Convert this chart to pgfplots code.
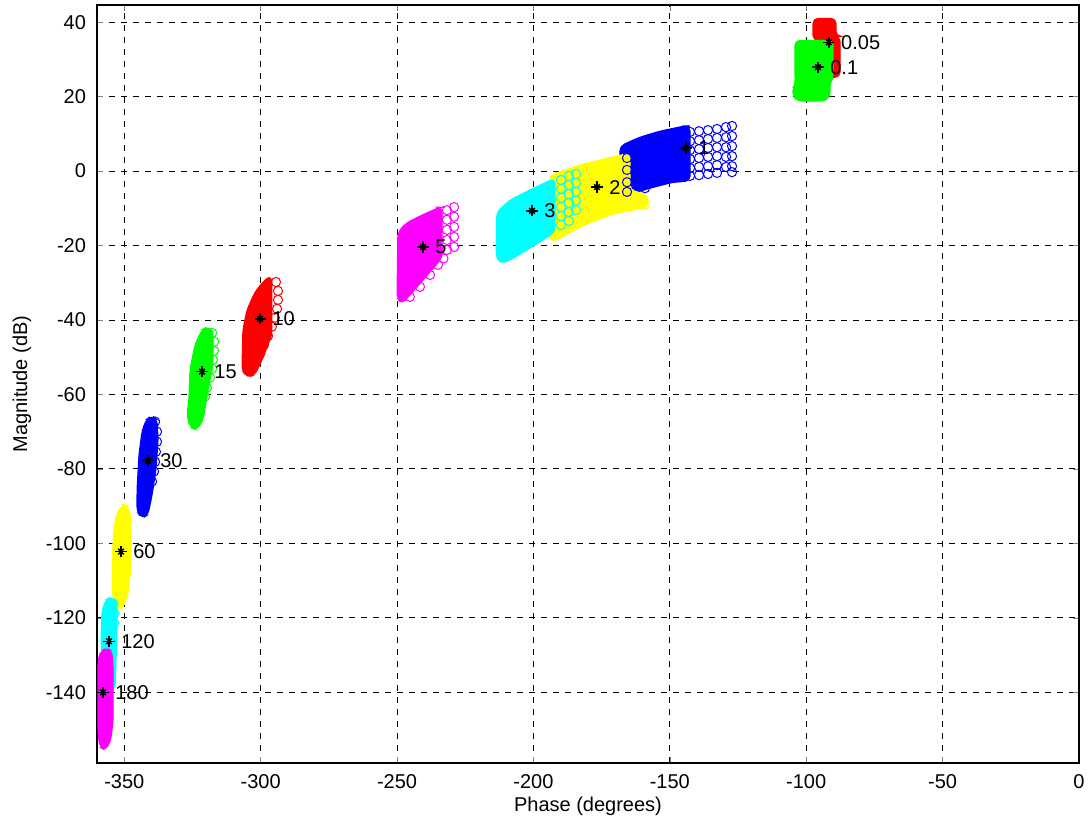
\documentclass[border=0pt]{standalone}
\usepackage{fontspec}
\setmainfont{Liberation Sans}
\usepackage{pgfplots}
\pgfplotsset{compat=1.18}
\definecolor{mred}{rgb}{1,0,0}
\definecolor{mgreen}{rgb}{0,1,0}
\definecolor{mblue}{rgb}{0,0,1}
\definecolor{myellow}{rgb}{1,1,0}
\definecolor{mcyan}{rgb}{0,1,1}
\definecolor{mmagenta}{rgb}{1,0,1}
\begin{document}
\begin{tikzpicture}
\pgfplotsset{
  tmpl/.style={draw=#1, fill=#1, line width=0.6pt, rounded corners=2.5pt, forget plot},
  circ/.style={only marks, mark=o, mark size=2.3pt, color=#1, mark options={line width=0.5pt}, forget plot},
}
\begin{axis}[
  scale only axis, width=491pt, height=379pt,
  xmin=-360, xmax=0, ymin=-159, ymax=44.6,
  xtick={-350,-300,-250,-200,-150,-100,-50,0},
  ytick={-140,-120,-100,-80,-60,-40,-20,0,20,40},
  /pgf/number format/assume math mode=true,
  grid=major,
  major grid style={black, line width=0.4pt, dash pattern=on 3pt off 3pt},
  tick align=inside, major tick length=3pt,
  axis line style={black, line width=0.6pt},
  xticklabel style={yshift=-2pt},
  yticklabel style={xshift=-2pt},
  xlabel={Phase (degrees)}, ylabel={Magnitude (dB)},
  xlabel style={at={(axis description cs:0.5,0)}, anchor=center, yshift=-21.5pt},
  ylabel style={at={(axis description cs:-0.0764,0.5)}, anchor=center},
]
% w = 0.05 (red)
\addplot[tmpl=mred] coordinates {(-97.5,41.0) (-89.1,41.0) (-89.1,36.2) (-87.6,36.2) (-87.6,25.2) (-91.7,25.2) (-91.7,35.1) (-97.5,35.1)} -- cycle;
% w = 0.1 (green)
\addplot[tmpl=mgreen] coordinates {(-104.1,35.1) (-90.2,35.1) (-90.2,24.9) (-91.3,23.9) (-91.3,19.6) (-94.2,18.8) (-103.0,18.8) (-104.9,20.1) (-104.9,22.3) (-103.8,23.3) (-104.1,24.4)} -- cycle;
% w = 1 (blue)
\addplot[tmpl=mblue] coordinates {(-168.3,6.7) (-160.95,9.1) (-153.6,10.7) (-144.5,12.1) (-142.6,12.1) (-142.6,-2.7) (-148.9,-3.0) (-157.3,-4.6) (-165.4,-6.4) (-168.3,-5.6)} -- cycle;
\addplot[circ=mblue] coordinates {
(-142.6,10.5) (-142.6,8.0) (-142.6,5.6) (-142.6,3.2) (-142.6,0.8) (-142.6,-1.3)
(-139.3,10.7) (-139.3,8.3) (-139.3,5.9) (-139.3,3.5) (-139.3,1.1) (-139.3,-1.1)
(-136.0,11.0) (-136.0,8.6) (-136.0,6.2) (-136.0,3.8) (-136.0,1.3) (-136.0,-0.8)
(-132.7,11.3) (-132.7,8.9) (-132.7,6.4) (-132.7,4.0) (-132.7,1.6) (-132.7,-0.5)
(-129.4,11.8) (-129.4,9.1) (-129.4,6.4) (-129.4,3.8) (-129.4,1.1)
(-127.2,12.1) (-127.2,9.4) (-127.2,6.7) (-127.2,4.0) (-127.2,1.3) (-127.2,-0.3)};
% w = 2 (yellow)
\addplot[tmpl=myellow] coordinates {(-193.9,-1.1) (-183.0,1.6) (-170.85,3.8) (-164.6,4.8) (-164.6,-5.1) (-158.0,-6.4) (-158.0,-9.7) (-170.85,-11.5) (-183.0,-15.0) (-192.1,-18.8) (-194.7,-18.0)} -- cycle;
\addplot[circ=myellow] coordinates {(-175.6,-10.5) (-172.0,-9.9) (-168.3,-9.4) (-164.6,-8.6) (-160.95,-7.8) (-159.1,-9.1) (-179.3,-11.8) (-183.0,-13.4)};
\addplot[circ=mblue] coordinates {(-165.7,3.5) (-165.7,0.3) (-165.7,-3.0) (-165.7,-5.6) (-162.1,3.0) (-162.1,-0.3) (-162.1,-3.5) (-159.1,1.6) (-159.1,-1.6) (-159.1,-4.6)};
% w = 3 (cyan)
\addplot[tmpl=mcyan] coordinates {(-213.4,-11.0) (-208.6,-7.8) (-201.3,-5.1) (-192.1,-1.9) (-192.1,-16.4) (-201.3,-20.7) (-208.6,-23.9) (-212.3,-24.9) (-213.7,-22.5)} -- cycle;
\addplot[circ=mcyan] coordinates {
(-189.9,-2.4) (-189.9,-4.8) (-189.9,-7.2) (-189.9,-9.7) (-189.9,-12.1) (-189.9,-14.5)
(-187.0,-1.3) (-187.0,-3.8) (-187.0,-6.2) (-187.0,-8.6) (-187.0,-11.0) (-187.0,-13.4)
(-184.4,-0.8) (-184.4,-3.2) (-184.4,-5.6) (-184.4,-8.0) (-184.4,-10.5)};
% w = 5 (magenta)
\addplot[tmpl=mmagenta] coordinates {(-249.7,-16.6) (-247.1,-14.2) (-241.6,-12.1) (-234.3,-9.7) (-233.5,-9.7) (-233.5,-23.3) (-239.8,-28.7) (-245.3,-33.3) (-248.2,-35.7) (-250.0,-34.1)} -- cycle;
\addplot[circ=mmagenta] coordinates {(-231.7,-10.5) (-231.7,-13.1) (-231.7,-15.8) (-231.7,-18.5) (-231.7,-21.2) (-229.1,-9.7) (-229.1,-12.3) (-229.1,-15.0) (-229.1,-17.7) (-229.1,-20.4) (-233.0,-23.5) (-235.0,-25.2) (-237.9,-27.9) (-241.6,-31.1) (-245.3,-33.8)};
% w = 10 (red)
\addplot[tmpl=mred] coordinates {(-306.5,-42.6) (-305.0,-37.3) (-302.1,-32.5) (-298.4,-29.2) (-295.9,-28.2) (-295.9,-44.0) (-299.5,-50.7) (-302.1,-54.7) (-305.0,-55.5) (-306.85,-53.4)} -- cycle;
\addplot[circ=mred] coordinates {(-294.4,-29.8) (-293.65,-32.2) (-293.65,-34.6) (-294.0,-37.0) (-294.8,-39.4) (-295.9,-41.8) (-297.3,-44.3) (-298.8,-46.7) (-300.2,-49.1) (-301.7,-51.2)};
% w = 15 (green)
\addplot[tmpl=mgreen] coordinates {(-326.3,-61.4) (-325.9,-53.4) (-324.1,-46.7) (-321.5,-42.6) (-319.3,-41.8) (-317.5,-43.2) (-317.5,-52.0) (-319.3,-58.7) (-321.1,-66.8) (-323.3,-69.5) (-325.9,-68.9) (-327.0,-65.5)} -- cycle;
\addplot[circ=mgreen] coordinates {(-317.8,-43.5) (-317.1,-45.9) (-317.1,-48.3) (-317.5,-50.7) (-317.8,-53.1) (-318.6,-55.5) (-319.7,-58.2) (-320.4,-60.6)};
% w = 30 (blue)
\addplot[tmpl=mblue] coordinates {(-345.3,-85.6) (-344.6,-76.2) (-343.5,-70.0) (-342.0,-66.8) (-339.8,-65.7) (-338.0,-66.8) (-337.6,-72.2) (-338.4,-80.2) (-339.8,-86.9) (-341.3,-92.3) (-343.5,-93.3) (-345.3,-91.5)} -- cycle;
\addplot[circ=mblue] coordinates {(-338.7,-67.3) (-338.0,-70.0) (-338.0,-72.7) (-338.4,-75.4) (-338.7,-78.1) (-339.1,-80.7) (-339.8,-83.4)};
% w = 60 (yellow)
\addplot[tmpl=myellow] coordinates {(-354.5,-112.4) (-354.1,-99.0) (-353.0,-92.3) (-350.8,-89.6) (-348.6,-89.9) (-347.5,-93.6) (-347.5,-105.7) (-348.6,-113.7) (-350.8,-117.8) (-353.4,-117.0)} -- cycle;
% w = 120 (cyan)
\addplot[tmpl=mcyan] coordinates {(-358.5,-125.8) (-358.2,-118.3) (-356.7,-115.1) (-354.5,-114.3) (-352.7,-115.9) (-352.7,-120.5) (-352.9,-128.5) (-353.4,-139.2) (-356.0,-139.8) (-357.8,-136.5)} -- cycle;
\addplot[circ=mcyan] coordinates {(-354.0,-116.2) (-353.6,-118.8) (-353.6,-121.4)};
% w = 180 (magenta)
\addplot[tmpl=mmagenta] coordinates {(-359.6,-131.2) (-358.5,-128.8) (-356.3,-128.2) (-354.5,-129.0) (-354.1,-133.9) (-354.1,-147.3) (-354.9,-152.6) (-356.7,-155.6) (-358.9,-154.8) (-359.6,-151.3)} -- cycle;
% nominal points
\addplot[only marks, mark=+, mark size=2.8pt, black, mark options={line width=0.7pt}, forget plot] table[x=x, y=y] {
x y
-91.7 34.6
-95.7 27.9
-144.1 6.2
-176.7 -4.3
-200.5 -10.7
-240.5 -20.4
-300.2 -39.7
-321.5 -53.9
-341.3 -77.8
-351.2 -102.2
-355.6 -126.3
-357.8 -140.0
};
\addplot[only marks, mark=x, mark size=2.0pt, black, mark options={line width=0.7pt},
  nodes near coords, point meta=explicit symbolic,
  nodes near coords style={anchor=west, xshift=2.5pt, black, font=\normalsize}, forget plot] table[x=x, y=y, meta=w] {
x y w
-91.7 34.6 0.05
-95.7 27.9 0.1
-144.1 6.2 1
-176.7 -4.3 2
-200.5 -10.7 3
-240.5 -20.4 5
-300.2 -39.7 10
-321.5 -53.9 15
-341.3 -77.8 30
-351.2 -102.2 60
-355.6 -126.3 120
-357.8 -140.0 180
};
\end{axis}
\pgfresetboundingbox
\path ([shift={(-48.5pt,-30.5pt)}]current axis.south west) rectangle ([shift={(6pt,2.5pt)}]current axis.north east);
\end{tikzpicture}
\end{document}
